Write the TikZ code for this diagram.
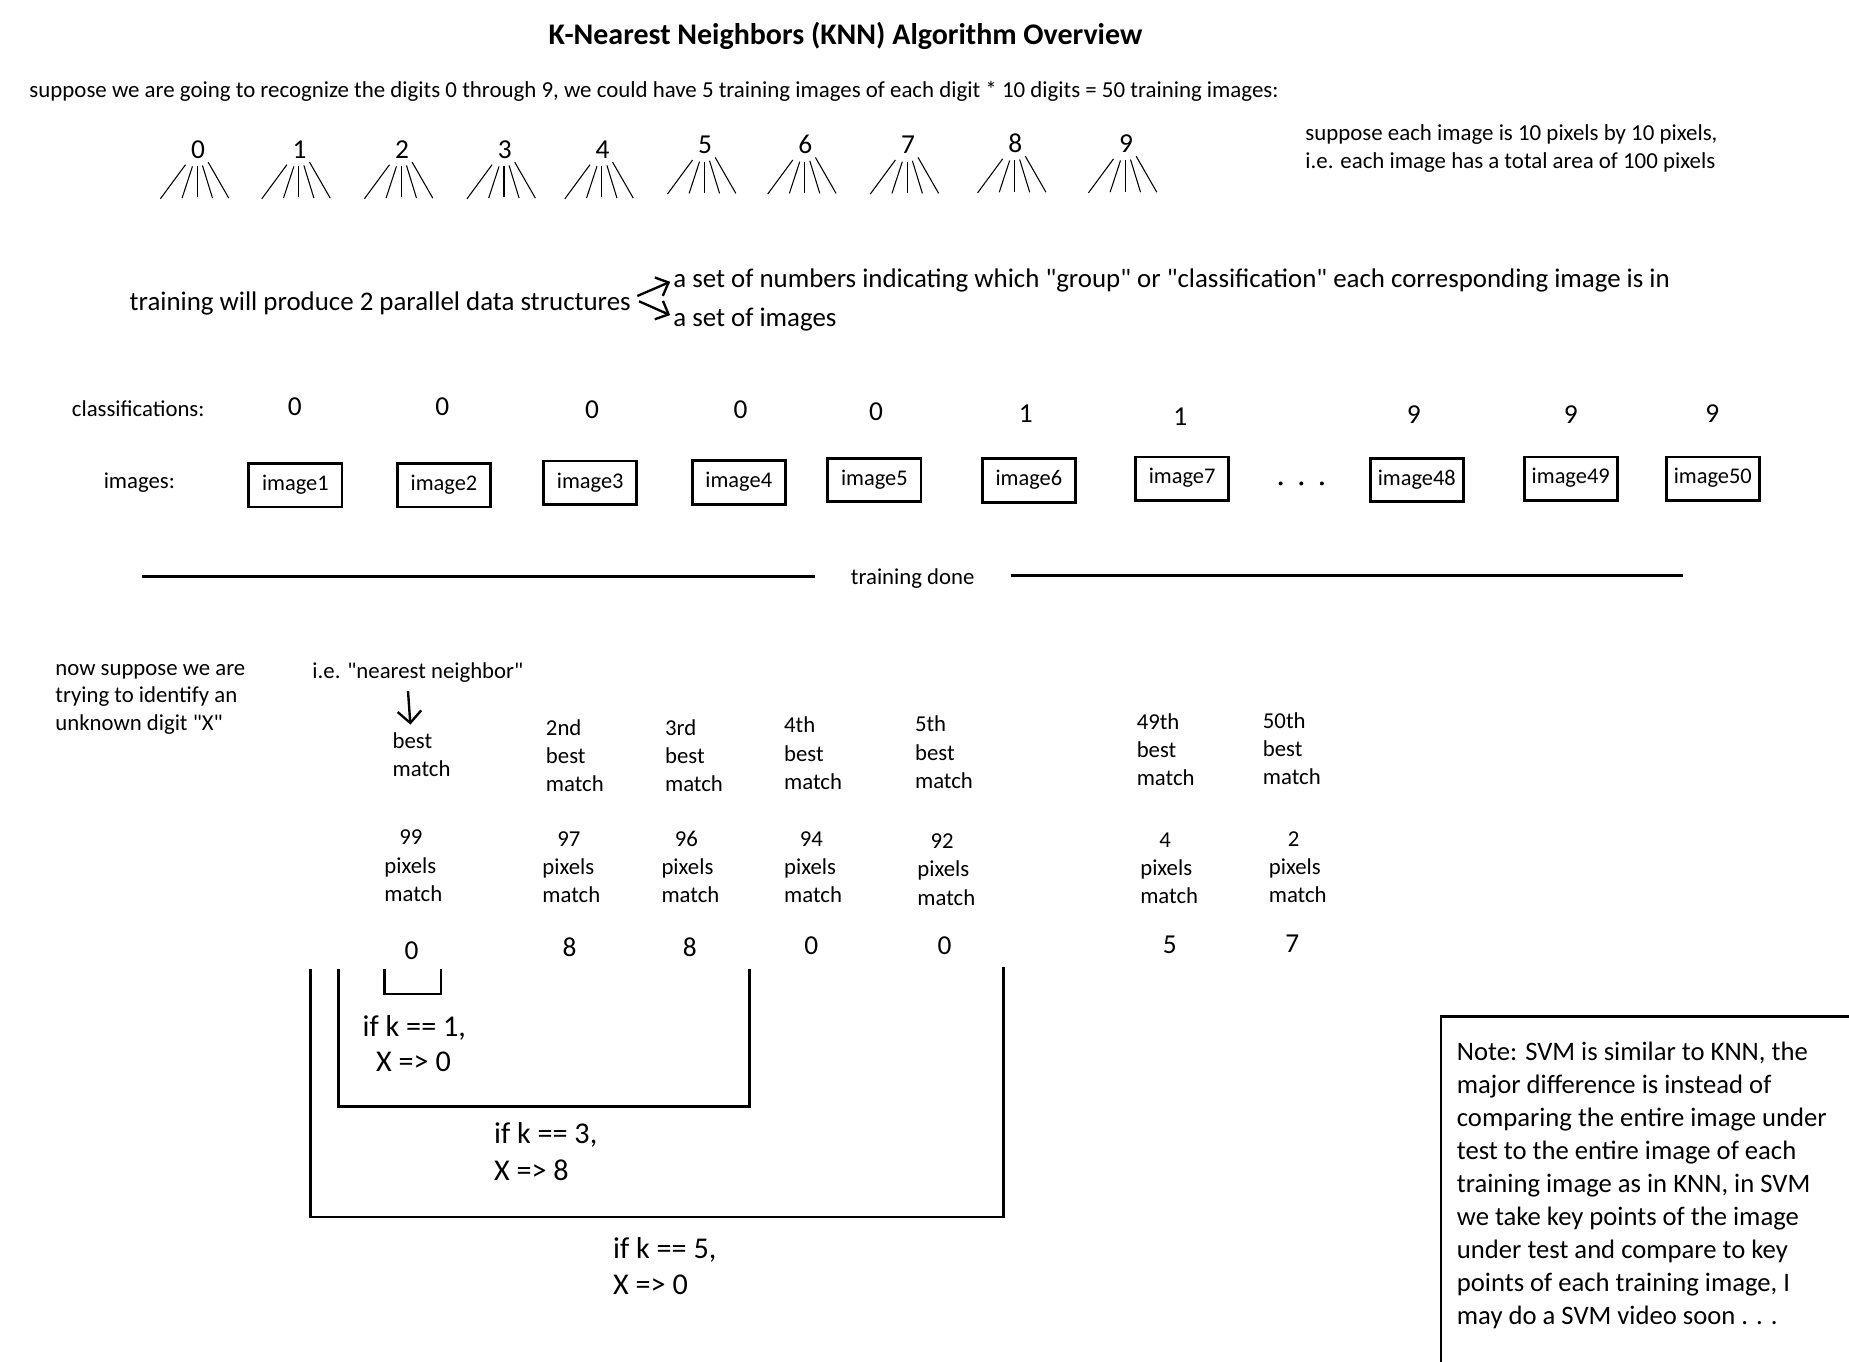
\documentclass[tikz,border=0pt]{standalone}
\usepackage{fontspec}
\setmainfont{Carlito}[Ligatures=TeXOff]
\usetikzlibrary{arrows.meta,calc}
\begin{document}
\begin{tikzpicture}[x=1pt,y=-1pt,
  every node/.style={inner sep=0pt,outer sep=0pt},
  ttl/.style={font=\fontsize{25.4}{30}\selectfont\bfseries},
  sm/.style={font=\fontsize{19.4}{23}\selectfont},
  rt/.style={font=\fontsize{19.4}{23}\selectfont},
  big/.style={font=\fontsize{22.8}{27}\selectfont},
  lab/.style={font=\fontsize{19.3}{23}\selectfont},
  num/.style={font=\fontsize{23.2}{27}\selectfont},
  kt/.style={font=\fontsize{25.6}{30}\selectfont},
  nt/.style={font=\fontsize{22.6}{28}\selectfont},
  imgbox/.style={draw,line width=2.4pt,minimum width=79pt,minimum height=37pt,
    text height=12.8pt,text depth=4pt,font=\fontsize{19}{23}\selectfont},
  bar/.style={line width=2.4pt},
  fanline/.style={line width=0.9pt},
  harr/.style={line width=2pt,-{Straight Barb[length=9pt,width=17pt]}},
  darr/.style={line width=2pt,-{Straight Barb[length=10pt,width=20pt]}},
]
\useasboundingbox (0,0) rectangle (1568,1155);

% title and intro
\node[ttl,anchor=base] (title) at (717,38) {K-Nearest Neighbors (KNN) Algorithm Overview};
\node[sm,anchor=base west] (intro) at (25,83) {suppose we are going to recognize the digits 0 through 9, we could have 5 training images of each digit * 10 digits = 50 training images:};
\node[rt,anchor=base west] (px1) at (1107,119.5) {suppose each image is 10 pixels by 10 pixels,};
\node[rt,anchor=base west] (px2) at (1107,142.5) {i.e. each image has a total area of 100 pixels};

% digits with fans
\foreach \d/\x/\y in {0/168/127,1/254/127,2/341/127,3/428/127,4/511/127,5/598/123,6/683/123,7/770/123,8/861/122,9/955/122}{
  \node[num,anchor=base] (dig\d) at (\x,\y+7.5) {\d};
  \draw[fanline] (\x-10.7,\y+12.7) -- (\x-32,\y+41.6);
  \draw[fanline] (\x-4.8,\y+14.1) -- (\x-13.6,\y+41);
  \draw[fanline] (\x-0.6,\y+14.1) -- (\x-0.6,\y+40.4);
  \draw[fanline] (\x+3.7,\y+13.3) -- (\x+12.2,\y+41);
  \draw[fanline] (\x+8.5,\y+10.5) -- (\x+26,\y+41);
}

% training produces
\node[big,anchor=base west] (train) at (110,263) {training will produce 2 parallel data structures};
\node[big,anchor=base west] (set1) at (571,244) {a set of numbers indicating which "group" or "classification" each corresponding image is in};
\node[big,anchor=base west] (set2) at (571,277) {a set of images};
\draw[harr] ($(train.base east)+(5.6,-12)$) -- ($(set1.base west)+(-2.7,-5)$);
\draw[harr] ($(train.base east)+(7,-7.5)$) -- ($(set2.base west)+(-2.7,-9.8)$);

% classifications and images
\node[lab,anchor=base west] (cls) at (61,353.5) {classifications:};
\foreach \i/\v/\x/\y in {1/0/250/345,2/0/375/345,3/0/502/347,4/0/628/347,5/0/743/349,6/1/870/351,7/1/1001/353,48/9/1199/352,49/9/1332/352,50/9/1452/351}
  \node[num,anchor=base] (c\i) at (\x,\y+7.5) {\v};
\node[lab,anchor=base west] (imgs) at (88,414.5) {images:};
\foreach \i/\x/\y in {1/250.5/411.5,2/376.5/411.5,3/500.5/409.5,4/626.5/409,5/741.5/407,6/872.5/407.5,7/1002.5/406,48/1201.5/407,49/1332/406,50/1452.5/406}
  \node[imgbox] (im\i) at (\x,\y) {image\i};
\foreach \x in {1086,1103.5,1121} \fill (\x,410) circle (1.7);

% training done
\node[lab,anchor=base] (done) at (774,495.5) {training done};
\draw[bar] (120,489) -- (691,489);
\draw[bar] (857,488) -- (1427,488);

% unknown digit
\foreach \t [count=\i from 0] in {now suppose we are,trying to identify an,unknown digit "X"}
  \node[lab,anchor=base west] (ns\i) at (47,572.5+23.5*\i) {\t};
\node[lab,anchor=base west] (ie) at (265,575.5) {i.e. "nearest neighbor"};

% column headers
\foreach \n/\x/\y/\L in {1/333/634.5/{best,match},2/463/623.5/{2nd,best,match},3/564/623.5/{3rd,best,match},4/665/621.5/{4th,best,match},5/776/620.5/{5th,best,match},49/964/618.5/{49th,best,match},50/1071/617.5/{50th,best,match}}{
  \foreach \t [count=\i from 0] in \L
    \node[lab,anchor=base west] (h\n-\i) at (\x,\y+24*\i) {\t};
}
\draw[darr] ($(ie.base west)+(81,10.5)$) -- ($(h1-0.base west)+(15,-20)$);
\foreach \n/\x/\c/\y/\v in {1/326/348.5/716.5/99,2/460/482.5/717.5/97,3/561/582/717.5/96,4/665/688/717.5/94,5/778/799/719.5/92,49/967/988/718.5/4,50/1076/1097/717.5/2}{
  \node[lab,anchor=base] (p\n-0) at (\c,\y) {\v};
  \node[lab,anchor=base west] (p\n-1) at (\x,\y+24) {pixels};
  \node[lab,anchor=base west] (p\n-2) at (\x,\y+48) {match};
}
\foreach \n/\x/\y/\v in {1/349/805/0,2/483/803/8,3/585/803/8,4/688/801/0,5/801/801/0,49/992/800/5,50/1096/799/7}
  \node[num,anchor=base] (r\n) at (\x,\y+8.5) {\v};

% brackets
\draw[bar] (326,822) -- (326,843) -- (374,843) -- (374,822);
\draw[bar] (287,822) -- (287,938.6) -- (635.5,938.6) -- (635.5,822);
\draw[bar] (263.5,822) -- (263.5,1032) -- (851,1032) -- (851,820);
\node[kt,anchor=base west] (k1a) at (307.6,879) {if k == 1,};
\node[kt,anchor=base west] (k1b) at (319,909) {X => 0};
\node[kt,anchor=base west] (k3a) at (419,970) {if k == 3,};
\node[kt,anchor=base west] (k3b) at (419,1001) {X => 8};
\node[kt,anchor=base west] (k5a) at (520,1067) {if k == 5,};
\node[kt,anchor=base west] (k5b) at (520,1098) {X => 0};

% note
\draw[bar] (1222,1160) -- (1222,862.3) -- (1572,862.3);
\foreach \t [count=\i from 0] in {{Note: SVM is similar to KNN, the},{major difference is instead of},{comparing the entire image under},{test to the entire image of each},{training image as in KNN, in SVM},{we take key points of the image},{under test and compare to key},{points of each training image, I},{may do a SVM video soon . . .}}
  \node[nt,anchor=base west] (note\i) at (1235.5,899+28*\i) {\t};
\end{tikzpicture}
\end{document}
